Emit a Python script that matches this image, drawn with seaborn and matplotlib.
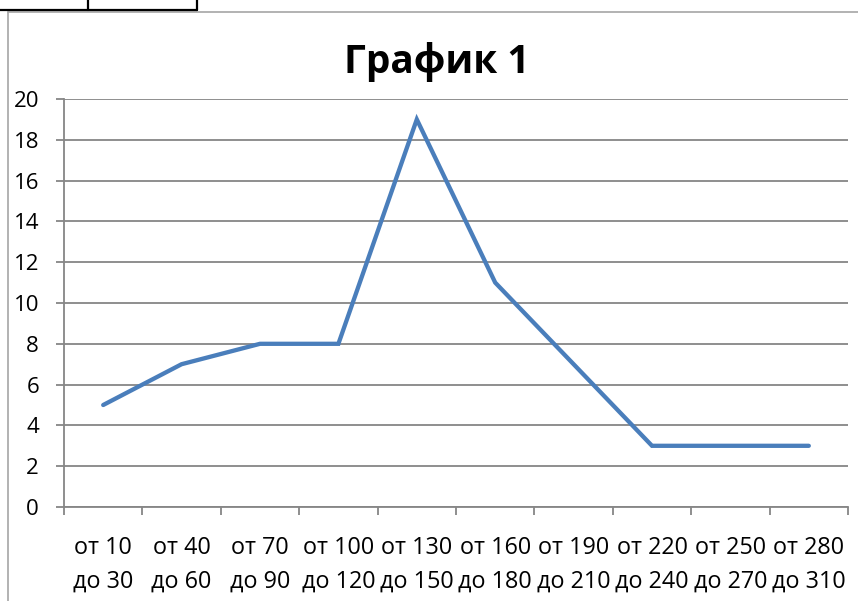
import matplotlib
matplotlib.use("Agg")
import matplotlib.pyplot as plt
from matplotlib.lines import Line2D
import numpy as np
import pandas as pd
import seaborn as sns

CATEGORIES = ["от 10\nдо 30", "от 40\nдо 60", "от 70\nдо 90", "от 100\nдо 120",
              "от 130\nдо 150", "от 160\nдо 180", "от 190\nдо 210", "от 220\nдо 240",
              "от 250\nдо 270", "от 280\nдо 310"]
VALUES = [5, 7, 8, 8, 19, 11, 7, 3, 3, 3]
Y_TICKS = list(range(0, 21, 2))
TITLE = "График 1"


def main():
    sns.set_style("white")
    plt.rcParams["font.family"] = ["Open Sans", "DejaVu Sans"]
    plt.rcParams["text.color"] = "black"
    plt.rcParams["xtick.labelcolor"] = "black"
    plt.rcParams["ytick.labelcolor"] = "black"

    W, H = 858, 601
    fig = plt.figure(figsize=(W / 100, H / 100), dpi=100)
    ax = fig.add_axes([64 / W, 1 - 507 / H, (848 - 64) / W, (507 - 99) / H])

    df = pd.DataFrame({"pos": np.arange(len(CATEGORIES)), "value": VALUES})
    sns.lineplot(data=df, x="pos", y="value", ax=ax, color="#4A7EBB",
                 linewidth=3.1, solid_capstyle="round", solid_joinstyle="miter")

    grey = "#868686"
    ax.set_xlim(-0.5, len(CATEGORIES) - 0.5)
    ax.set_ylim(0, 20)
    ax.set_yticks(Y_TICKS)
    ax.set_yticklabels([str(t) for t in Y_TICKS], fontsize=16)
    ax.set_xticks(df["pos"])
    ax.set_xticklabels(CATEGORIES, fontsize=16.8, linespacing=1.55)
    ax.set_xticks(np.arange(len(CATEGORIES) + 1) - 0.5, minor=True)
    ax.tick_params(axis="x", which="major", length=0, pad=21)
    ax.tick_params(axis="x", which="minor", length=6, width=1.3, color=grey,
                   direction="out", bottom=True)
    ax.tick_params(axis="y", length=6, width=1.3, color=grey, direction="out",
                   left=True, pad=12)
    ax.set_xlabel("")
    ax.set_ylabel("")

    ax.grid(axis="y", color=grey, linewidth=1.3)
    ax.set_axisbelow(True)
    for side in ["top", "right"]:
        ax.spines[side].set_visible(False)
    for side in ["left", "bottom"]:
        ax.spines[side].set_color(grey)
        ax.spines[side].set_linewidth(1.3)

    fig.text(437 / W, 1 - 62 / H, TITLE, fontsize=28, fontweight="bold",
             ha="center", va="center", color="black")

    # chart frame and spreadsheet cell borders behind it
    def px_line(x0, y0, x1, y1, color, lw):
        fig.add_artist(Line2D([x0 / W, x1 / W], [1 - y0 / H, 1 - y1 / H],
                              color=color, linewidth=lw, transform=fig.transFigure))

    px_line(8, 12, 8, H, "#a6a6a6", 1.2)
    px_line(8, 12, W, 12, "#a6a6a6", 1.2)
    px_line(0, 10, 197, 10, "black", 1.6)
    px_line(88, 0, 88, 10, "black", 1.6)
    px_line(197, 0, 197, 10, "black", 1.6)

    fig.savefig("out.png", dpi=100)


if __name__ == "__main__":
    main()
